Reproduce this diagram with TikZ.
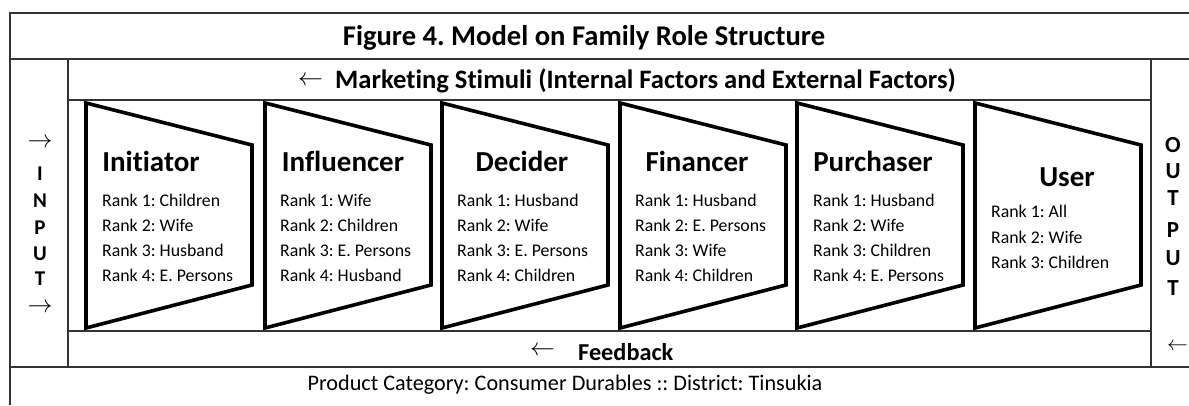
\documentclass[tikz,border=0pt]{standalone}
\usepackage{fontspec}
\setmainfont{Carlito}[Ligatures=NoCommon]
\frenchspacing
\begin{document}
\begin{tikzpicture}[x=1pt,y=-1pt,
  frame/.style={draw=black!80,line width=1.8pt},
  trap/.style={draw=black,line width=3.6pt,line join=miter},
  head/.style={font=\bfseries\fontsize{29}{30}\selectfont,anchor=base,inner sep=0},
  rank/.style={font=\fontsize{17.8}{20}\selectfont,anchor=base west,inner sep=0},
  band/.style={font=\bfseries\fontsize{26.6}{28}\selectfont,anchor=base west,inner sep=0},
  side/.style={font=\bfseries\fontsize{21}{22}\selectfont,anchor=base,inner sep=0},
  arr/.style={font=\fontsize{26}{26}\selectfont,inner sep=0}]
\useasboundingbox (0,0) rectangle (1189,405);
% frame lines
\draw[frame] (1189,13) -- (10,13) -- (10,405);
\draw[frame] (10,59) -- (1189,59);
\draw[frame] (10,367) -- (1189,367);
\draw[frame] (68,59) -- (68,367);
\draw[frame] (1151,59) -- (1151,367);
\draw[frame] (68,100) -- (1151,100);
\draw[frame] (68,331) -- (1151,331);
% trapezoids
\foreach \L in {86,265,442,620,797,975}
  \draw[trap] (\L,103) -- (\L+166,145) -- (\L+166,285) -- (\L,328) -- cycle;
% title and bands
\node[head,font=\bfseries\fontsize{28.6}{30}\selectfont] (title) at (584,45) {Figure 4. Model on Family Role Structure};
\node[arr,anchor=west] (mktA) at (298,81) {$\leftarrow$};
\node[band] (mkt) at (335,88) {Marketing Stimuli (Internal Factors and External Factors)};
\node[arr,anchor=west] (fbA) at (530,351) {$\leftarrow$};
\node[band,font=\bfseries\fontsize{24.3}{26}\selectfont] (fb) at (578,360) {Feedback};
\node[font=\fontsize{22.2}{24}\selectfont,anchor=base,inner sep=0] (foot) at (565,390) {Product Category: Consumer Durables :: District: Tinsukia};
% input column
\node[arr] (inA) at (40,143) {$\rightarrow$};
\node[arr] (inB) at (40,308) {$\rightarrow$};
\foreach \ch/\y in {I/180,N/207,P/234,U/260,T/285}
  \node[side] (in\y) at (40,\y) {\ch};
% output column
\foreach \ch/\y in {O/152,U/178,T/205,P/237,U/265,T/295}
  \node[side,font=\bfseries\fontsize{23}{24}\selectfont] (out\y) at (1173,\y) {\ch};
\node[arr,anchor=west,font=\fontsize{21}{21}\selectfont] (outA) at (1167,347) {$\leftarrow$};
% role titles
\node[head] (h1) at (151,171) {Initiator};
\node[head] (h2) at (343,171) {Influencer};
\node[head] (h3) at (522,171) {Decider};
\node[head] (h4) at (697,171) {Financer};
\node[head] (h5) at (873,171) {Purchaser};
\node[head] (h6) at (1067,186) {User};
% ranks
\node[rank] (r11) at (102,206) {Rank 1: Children};
\node[rank] (r12) at (102,231) {Rank 2: Wife};
\node[rank] (r13) at (102,256) {Rank 3: Husband};
\node[rank] (r14) at (102,281) {Rank 4: E. Persons};
\node[rank] (r21) at (280,206) {Rank 1: Wife};
\node[rank] (r22) at (280,231) {Rank 2: Children};
\node[rank] (r23) at (280,256) {Rank 3: E. Persons};
\node[rank] (r24) at (280,281) {Rank 4: Husband};
\node[rank] (r31) at (457,206) {Rank 1: Husband};
\node[rank] (r32) at (457,231) {Rank 2: Wife};
\node[rank] (r33) at (457,256) {Rank 3: E. Persons};
\node[rank] (r34) at (457,281) {Rank 4: Children};
\node[rank] (r41) at (635,206) {Rank 1: Husband};
\node[rank] (r42) at (635,231) {Rank 2: E. Persons};
\node[rank] (r43) at (635,256) {Rank 3: Wife};
\node[rank] (r44) at (635,281) {Rank 4: Children};
\node[rank] (r51) at (813,206) {Rank 1: Husband};
\node[rank] (r52) at (813,231) {Rank 2: Wife};
\node[rank] (r53) at (813,256) {Rank 3: Children};
\node[rank] (r54) at (813,281) {Rank 4: E. Persons};
\node[rank] (r61) at (991,217) {Rank 1: All};
\node[rank] (r62) at (991,243) {Rank 2: Wife};
\node[rank] (r63) at (991,268) {Rank 3: Children};
\end{tikzpicture}
\end{document}
